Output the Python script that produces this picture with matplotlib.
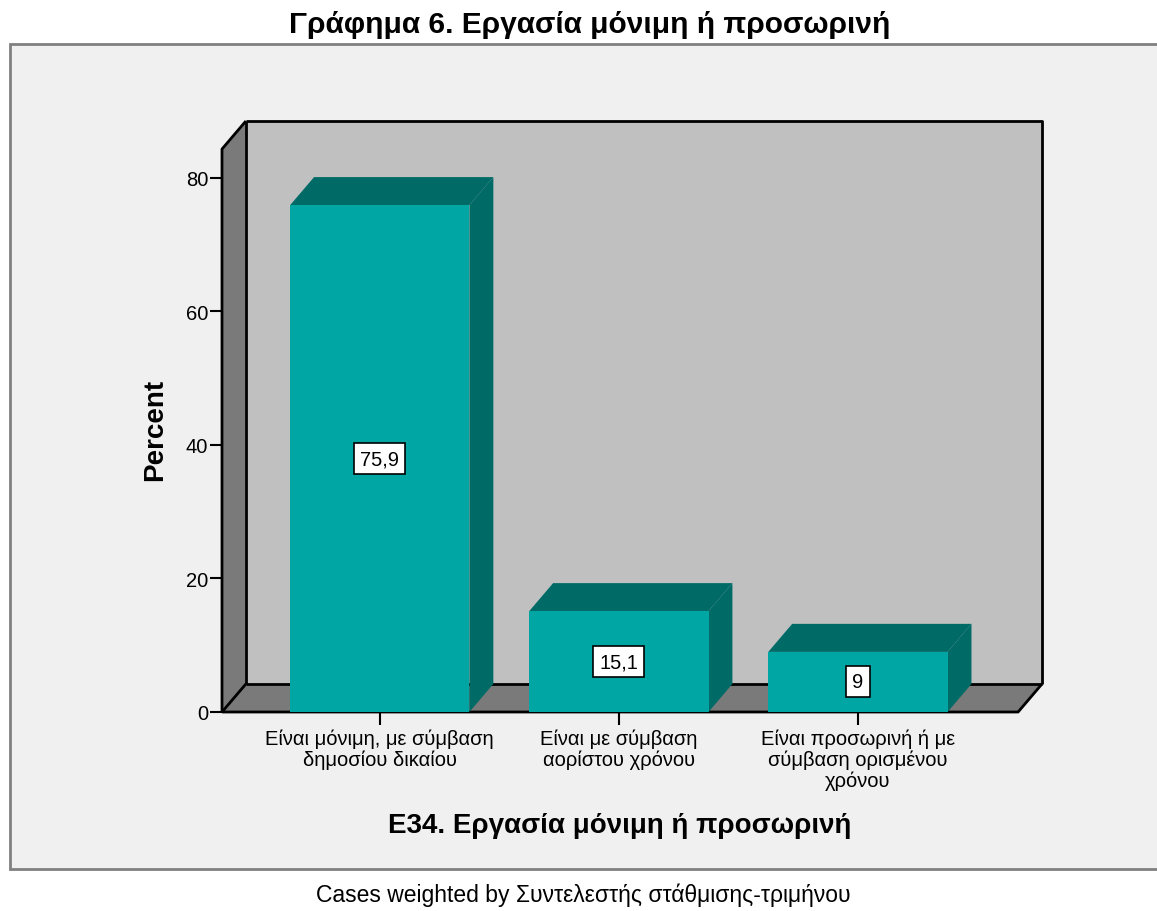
import numpy as np
import matplotlib.pyplot as plt
from matplotlib.patches import Polygon, Rectangle

# data
categories = ['Είναι μόνιμη, με σύμβαση\nδημοσίου δικαίου',
              'Είναι με σύμβαση\nαορίστου χρόνου',
              'Είναι προσωρινή ή με\nσύμβαση ορισμένου\nχρόνου']
percents = [75.9, 15.1, 9.0]
bar_labels = ['75,9', '15,1', '9']
yticks = [0, 20, 40, 60, 80]

title = 'Γράφημα 6. Εργασία μόνιμη ή προσωρινή'
xlabel = 'E34. Εργασία μόνιμη ή προσωρινή'
ylabel = 'Percent'
footer = 'Cases weighted by Συντελεστής στάθμισης-τριμήνου'

# look
face_col = '#00a6a4'
dark_col = '#006a67'
wall_col = '#c0c0c0'
side_col = '#7a7a7a'
frame_bg = '#f0f0f0'

plt.rcParams['font.family'] = ['Liberation Sans', 'DejaVu Sans']

fig = plt.figure(figsize=(11.57, 9.12), dpi=100)
fig.patch.set_facecolor('white')

# outer chart frame
fig.patches.append(Rectangle((10 / 1157, 42 / 912), 1.2, 825 / 912,
                             transform=fig.transFigure, facecolor=frame_bg,
                             edgecolor='#808080', lw=2, zorder=-5))

ax = fig.add_axes([222 / 1157, 1 - 713 / 912, 820 / 1157, 591 / 912])
ax.set_facecolor('none')
ax.set_zorder(2)
for s in ax.spines.values():
    s.set_visible(False)

x0, x1 = -0.66, 2.67       # front floor extent
dx, dy = 0.1, 4.2          # depth offset
ytop = 84.3
ax.set_xlim(x0, x1 + dx)
ax.set_ylim(0, ytop + dy)

# back wall, left wall, floor
ax.add_patch(Polygon([(x0 + dx, dy), (x1 + dx, dy), (x1 + dx, ytop + dy), (x0 + dx, ytop + dy)],
                     closed=True, facecolor=wall_col, edgecolor='none', zorder=1))
ax.add_patch(Polygon([(x0, 0), (x0 + dx, dy), (x0 + dx, ytop + dy), (x0, ytop)],
                     closed=True, facecolor=side_col, edgecolor='none', zorder=1, clip_on=False))
ax.add_patch(Polygon([(x0, 0), (x1, 0), (x1 + dx, dy), (x0 + dx, dy)],
                     closed=True, facecolor=side_col, edgecolor='none', zorder=1, clip_on=False))

lk = dict(color='black', lw=2, zorder=2, clip_on=False, solid_capstyle='butt')
ax.plot([x0 + dx, x1 + dx, x1 + dx], [ytop + dy, ytop + dy, dy], **lk)
ax.plot([x0 + dx, x0 + dx], [dy, ytop + dy], **lk)
ax.plot([x0 + dx, x1 + dx], [dy, dy], **lk)
ax.plot([x0, x1, x1 + dx], [0, 0, dy], **lk)
ax.plot([x0, x0, x0 + dx], [0, ytop, ytop + dy], **lk)
ax.plot([x0, x0 + dx], [0, dy], **lk)

# 3d bars
w = 0.75
xs = np.arange(len(categories))
for xc, v, lab in zip(xs, percents, bar_labels):
    l, r = xc - w / 2, xc + w / 2
    ax.add_patch(Polygon([(r, 0), (r + dx, dy), (r + dx, v + dy), (r, v)],
                         closed=True, facecolor=dark_col, edgecolor='none', zorder=3))
    ax.add_patch(Polygon([(l, v), (r, v), (r + dx, v + dy), (l + dx, v + dy)],
                         closed=True, facecolor=dark_col, edgecolor='none', zorder=3))
    ax.add_patch(Rectangle((l, 0), w, v, facecolor=face_col, edgecolor='none', zorder=4))
    ax.text(xc, v / 2, lab, ha='center', va='center', fontsize=14.5, zorder=5,
            bbox=dict(boxstyle='square,pad=0.3', facecolor='white', edgecolor='black', lw=1.2))

ax.set_yticks(yticks)
ax.set_yticklabels([str(t) for t in yticks], fontsize=14.5)
ax.set_xticks(xs)
ax.set_xticklabels(categories, fontsize=14.5, linespacing=1.08)
ax.tick_params(axis='y', length=9, width=1.5, pad=1)
ax.tick_params(axis='x', length=9, width=1.5, pad=3)

fig.text(590 / 1157, 1 - 25 / 912, title, ha='center', va='center', fontsize=21.5,
         fontweight='bold')
fig.text(155 / 1157, 1 - 430 / 912, ylabel, ha='center', va='center', rotation=90,
         fontsize=20, fontweight='bold')
fig.text(620 / 1157, 1 - 826 / 912, xlabel, ha='center', va='center',
         fontsize=20, fontweight='bold')
fig.text(583 / 1157, 1 - 895 / 912, footer, ha='center', va='center', fontsize=16.5)

plt.savefig('out.png', dpi=100)
